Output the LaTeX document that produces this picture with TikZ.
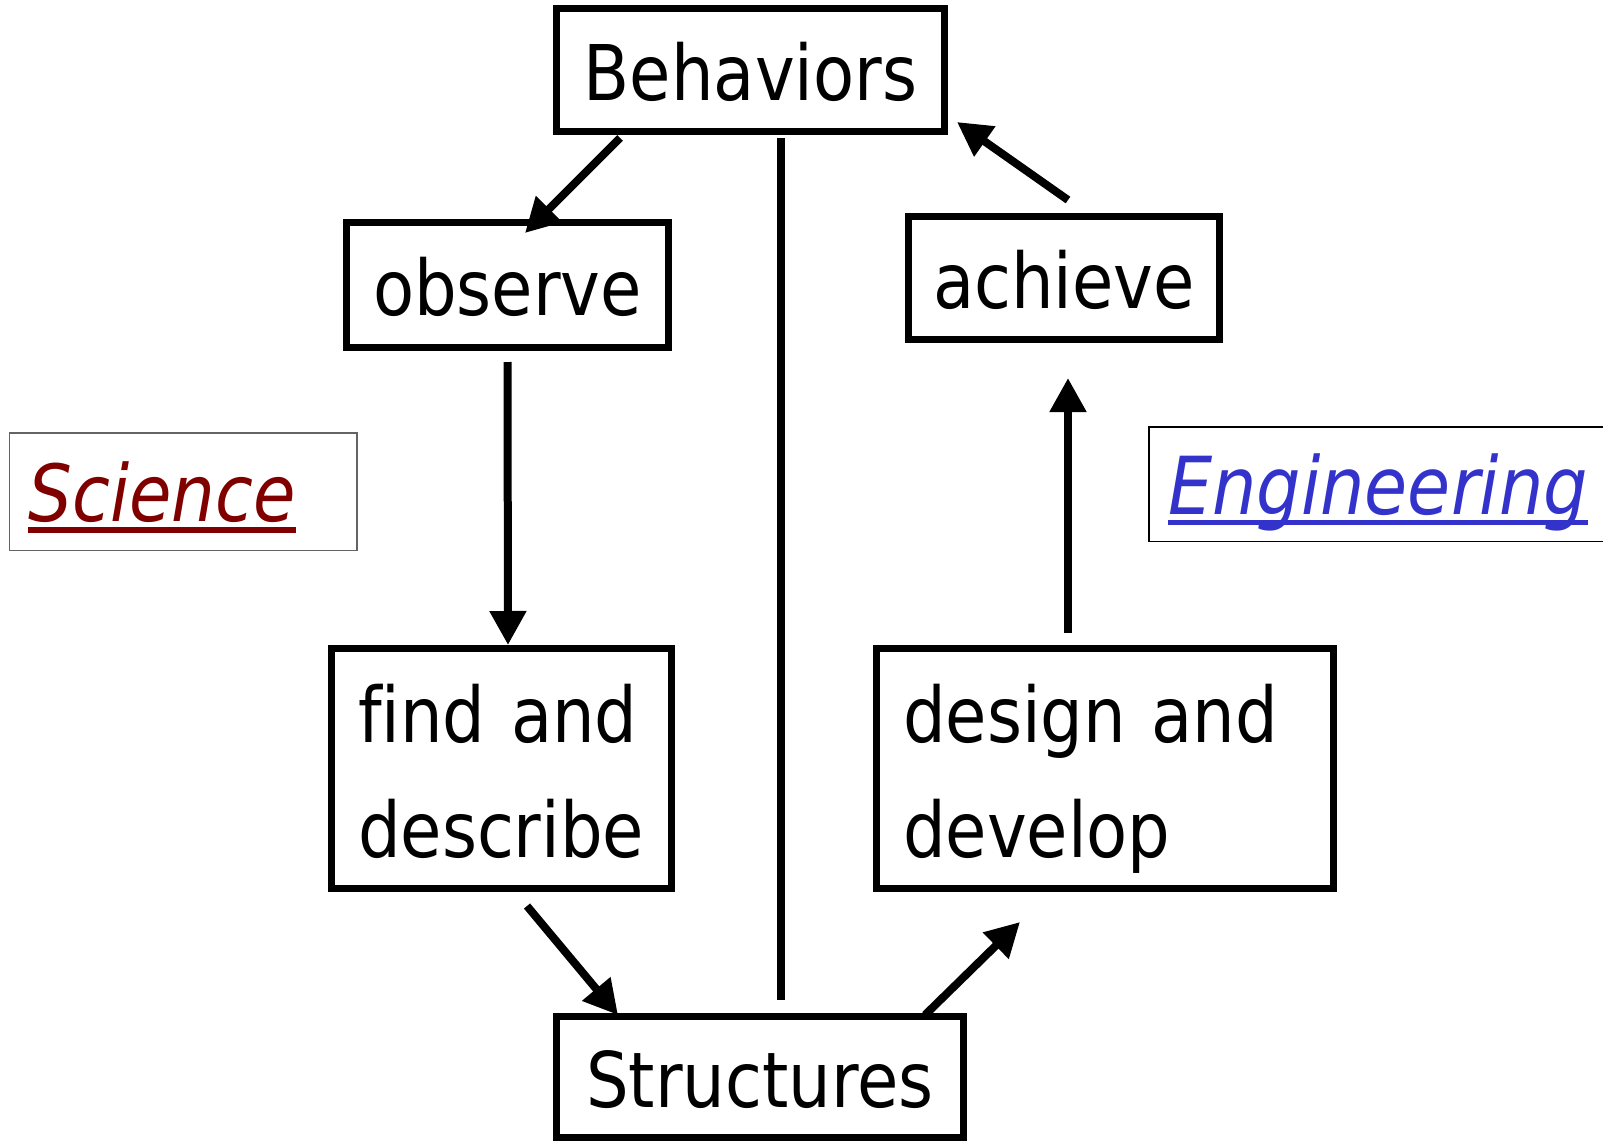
\documentclass[tikz,border=0pt]{standalone}
\usepackage{fontspec}
\setmainfont{DejaVu Sans}[FakeStretch=0.875, Ligatures=NoCommon]
\usetikzlibrary{positioning, arrows.meta}
\definecolor{sciencered}{RGB}{128,0,0}
\definecolor{engblue}{RGB}{51,51,204}
\definecolor{framegray}{RGB}{100,100,100}
\hyphenpenalty=10000
\newsavebox{\ulbox}
\newcommand{\ulword}[1]{\sbox{\ulbox}{#1}\rlap{\vrule height -2.8pt depth 5.7pt width \wd\ulbox}\usebox{\ulbox}}

\begin{document}
\begin{tikzpicture}[on grid,
	main/.style = {draw, line width=3.5pt, inner sep=0pt, text height=30pt, text depth=0pt, font=\fontsize{38.4pt}{57.75pt}\selectfont},
	twoline/.style = {main, inner xsep=13.25pt, align=left, text height=31.25pt, text depth=57.75pt},
	field/.style = {draw, line width=0.75pt, inner xsep=9.6pt, inner ysep=0pt, align=left, text height=30pt, text depth=0pt, font=\fontsize{39.4pt}{48pt}\selectfont\itshape},
	arr/.style = {line width=4pt, -{Triangle[length=17pt, width=17.5pt]}}]
	\useasboundingbox (0,0) rectangle (801.5pt,-570.5pt);
	\fill[white] (0,0) rectangle (801.5pt,-570.5pt);
	\node[main, minimum width=194pt, minimum height=61.5pt] (1) at (375.25pt,-35pt) {Behaviors};
	\node[main, minimum width=161pt, minimum height=62.5pt] (2) [below left=107.5pt and 121.5pt of 1] {observe};
	\node[twoline, text width=143.5pt, minimum height=120pt] (3) [below=241.75pt of 2, xshift=-3pt] {find and\\describe};
	\node[main, minimum width=203.5pt, minimum height=60.5pt] (4) [below=503.5pt of 1, xshift=4.75pt] {Structures};
	\node[twoline, text width=202pt, minimum height=120pt] (5) [right=301.75pt of 3] {design and\\develop};
	\node[main, minimum width=155.5pt, minimum height=61.5pt] (6) [below right=104pt and 156.75pt of 1] {achieve};
	% side labels
	\node[field, draw=framegray, text=sciencered, text width=154.55pt, minimum height=58.75pt] (7) [below left=103.25pt and 162.25pt of 2] {\ulword{Science}};
	\node[field, text=engblue, text width=240.8pt, minimum height=57.25pt, font=\fontsize{40pt}{48pt}\selectfont\itshape] (8) [below right=103pt and 172.4pt of 6] {\ulword{Engineering}};
	% cycle
	\draw[arr] ([xshift=-65.25pt, yshift=-1.5pt]1.south) -- ([xshift=8.75pt, yshift=-7pt]2.north);
	\draw[arr] ([yshift=-5.5pt]2.south) -- ([xshift=3.25pt]3.north);
	\draw[arr] ([xshift=12.75pt, yshift=-7pt]3.south) -- ([xshift=-71pt, yshift=-1pt]4.north);
	\draw[arr] ([xshift=82.5pt, yshift=-1pt]4.north) -- ([xshift=-42.5pt, yshift=-15pt]5.south);
	\draw[arr] ([xshift=-18.5pt, yshift=6pt]5.north) -- ([xshift=2pt, yshift=-17.5pt]6.south);
	\draw[arr] ([xshift=2pt, yshift=6.5pt]6.north) -- ([xshift=4.5pt, yshift=6.5pt]1.south east);
	\draw[line width=4pt] ([xshift=15.25pt, yshift=-1.5pt]1.south) -- ([xshift=10.5pt, yshift=6.5pt]4.north);
\end{tikzpicture}
\end{document}
